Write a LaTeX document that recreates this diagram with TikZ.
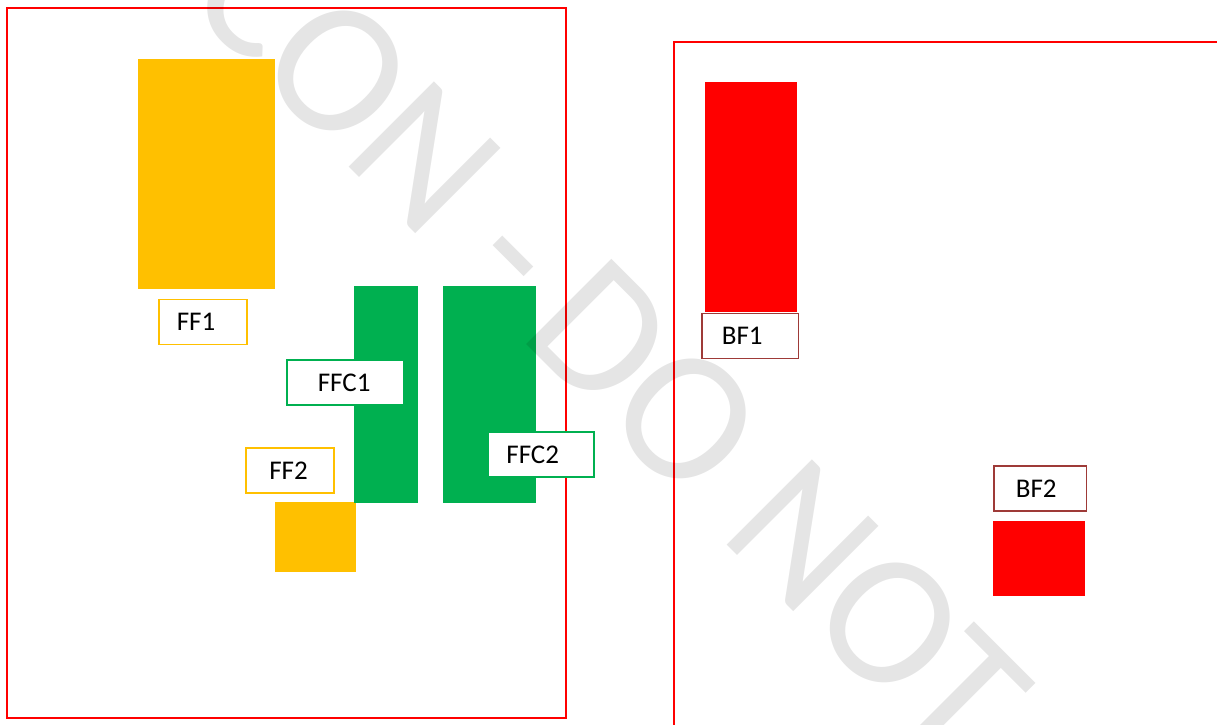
\documentclass[tikz,border=0pt]{standalone}
\usepackage{fontspec}
\setmainfont{Carlito}
\usepackage{tikz}
\definecolor{ffyellow}{HTML}{FFC000}
\definecolor{ffgreen}{HTML}{00B050}
\definecolor{bfred}{HTML}{FF0000}
\definecolor{tagbrown}{HTML}{9E3A38}
\tikzset{
  frame/.style={draw=bfred, line width=2pt},
  tag/.style={draw=#1, line width=1.7pt, fill=white, anchor=west, align=left,
    minimum height=45pt, inner ysep=0pt, font=\fontsize{27}{30}\selectfont},
  watermark/.style={text=black, text opacity=0.1, inner sep=0pt, rotate=-45,
    anchor=base west, font=\fontsize{188}{188}\selectfont}
}

\begin{document}
\begin{tikzpicture}[x=1pt, y=-1pt]
    \useasboundingbox (0,0) rectangle (1217,724);
    \clip (0,0) rectangle (1217,724);

    % front and back frames
    \draw[frame] (7,8) rectangle (566,718);
    \draw[frame] (1230,41.5) -- (674,41.5) -- (674,740);

    % front side parts
    \fill[ffyellow] (138,59) rectangle (275,289);
    \fill[ffyellow] (275,502) rectangle (356,572);
    \fill[ffgreen] (354,286) rectangle (418,503);
    \fill[ffgreen] (443,286) rectangle (536,503);

    % back side parts
    \fill[bfred] (705,82) rectangle (797,312);
    \fill[bfred] (993,521) rectangle (1085,596);

    % labels
    \node[tag=ffyellow, text width=52pt, inner xsep=18pt] (ff1) at (158,322) {FF1};
    \node[tag=ffgreen, text width=55pt, inner xsep=31pt] (ffc1) at (286,382.5) {FFC1};
    \node[tag=ffyellow, text width=41pt, inner xsep=23.5pt] (ff2) at (245,470.5) {FF2};
    \node[tag=ffgreen, text width=69pt, inner xsep=18.5pt] (ffc2) at (487,454.5) {FFC2};
    \node[tag=tagbrown, text width=56.5pt, inner xsep=20pt] (bf1) at (701,336) {BF1};
    \node[tag=tagbrown, text width=49pt, inner xsep=21.7pt] (bf2) at (993.3,488.7) {BF2};

    % watermark
    \node[watermark] (wm) at (182,0) {CON -\kern0.16em DO NOT};
  \end{tikzpicture}
\end{document}
